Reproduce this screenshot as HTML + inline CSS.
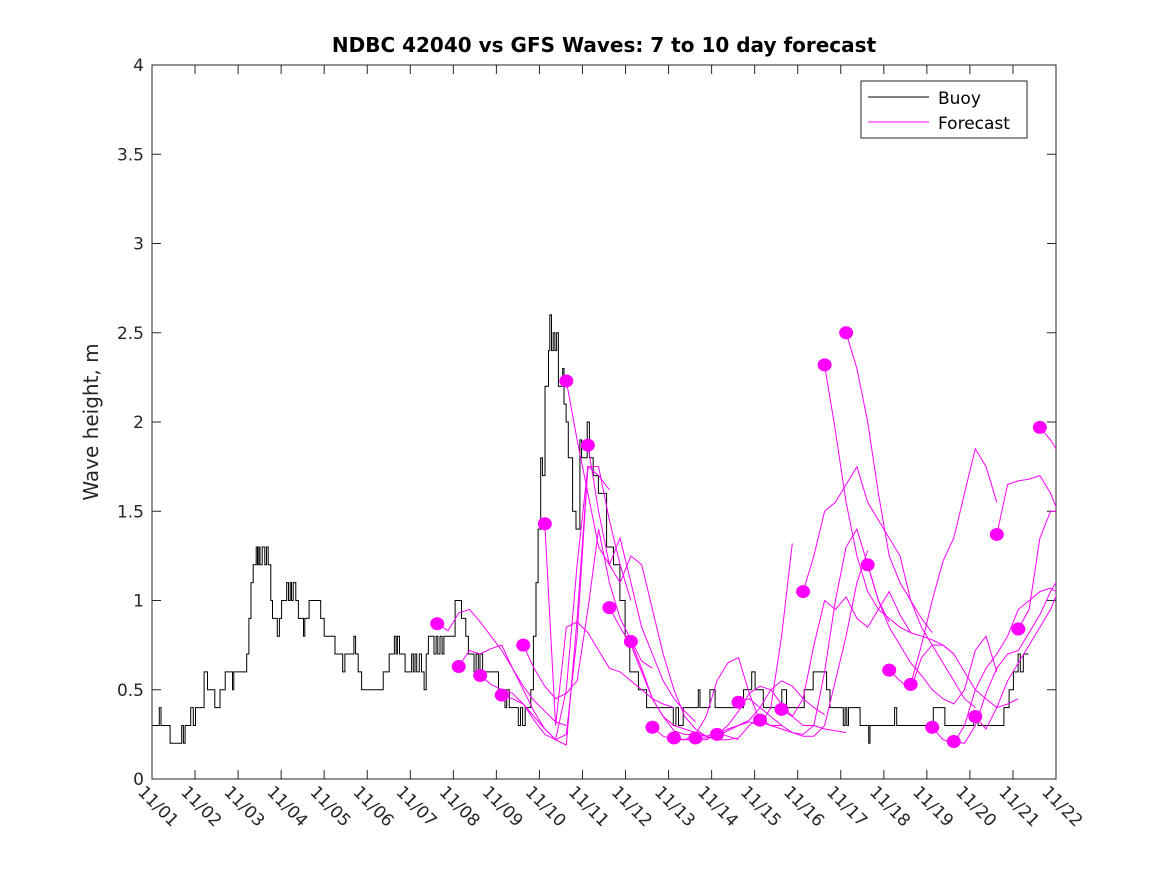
<!DOCTYPE html>
<html><head><meta charset="utf-8"><style>
html,body{margin:0;padding:0;background:#fff;}
svg{display:block;font-family:"DejaVu Sans","Liberation Sans",sans-serif;}
</style></head><body>
<svg id="chart" width="1167" height="875" viewBox="0 0 1167 875">
<defs><clipPath id="plotclip"><rect x="152" y="65" width="904" height="714"/></clipPath></defs>
<rect x="0" y="0" width="1167" height="875" fill="#fff"/>
<text x="604" y="52" text-anchor="middle" font-size="20" font-weight="bold" fill="#000">NDBC 42040 vs GFS Waves: 7 to 10 day forecast</text>
<text transform="translate(98,422) rotate(-90)" text-anchor="middle" font-size="20" fill="#262626">Wave height, m</text>
<g id="axes"></g>
<g id="plot" clip-path="url(#plotclip)"></g>
<g>
<rect x="861" y="81" width="166" height="57" fill="#fff" stroke="#262626" stroke-width="1"/>
<line x1="868" y1="97" x2="929" y2="97" stroke="#000" stroke-width="1"/>
<text x="938" y="104" font-size="17" fill="#000">Buoy</text>
<line x1="868" y1="122" x2="929" y2="122" stroke="#ff00ff" stroke-width="1"/>
<text x="938" y="129" font-size="17" fill="#000">Forecast</text>
</g>
</svg>
<script>
const yTicks=[0,0.5,1,1.5,2,2.5,3,3.5,4];
const yTickLabels=["0","0.5","1","1.5","2","2.5","3","3.5","4"];
const xTickLabels=["11/01","11/02","11/03","11/04","11/05","11/06","11/07","11/08","11/09","11/10","11/11","11/12","11/13","11/14","11/15","11/16","11/17","11/18","11/19","11/20","11/21","11/22"];
const buoyDays=[0,0.17,0.21,0.42,0.69,0.73,0.77,0.90,0.96,1.01,1.21,1.29,1.46,1.58,1.70,1.87,1.90,2.20,2.25,2.30,2.35,2.42,2.45,2.48,2.51,2.56,2.62,2.66,2.70,2.76,2.80,2.91,2.96,3.01,3.13,3.17,3.21,3.24,3.28,3.34,3.40,3.52,3.55,3.65,3.92,4.00,4.06,4.25,4.43,4.48,4.69,4.73,4.79,4.87,5.37,5.51,5.63,5.67,5.70,5.75,5.88,6.03,6.07,6.11,6.15,6.21,6.26,6.32,6.37,6.42,6.55,6.60,6.64,6.69,6.74,6.78,7.04,7.19,7.29,7.35,7.48,7.53,7.58,7.62,7.68,8.05,8.20,8.24,8.30,8.51,8.56,8.61,8.67,8.80,8.86,8.92,8.97,9.03,9.07,9.13,9.21,9.24,9.28,9.32,9.36,9.40,9.44,9.54,9.57,9.62,9.67,9.77,9.85,9.94,9.98,10.11,10.16,10.25,10.37,10.56,10.72,10.87,10.99,11.10,11.30,11.49,12.11,12.17,12.23,12.34,12.69,12.73,12.96,13.08,13.74,13.93,14.01,14.20,14.63,14.74,15.15,15.36,15.67,15.75,16.06,16.10,16.14,16.18,16.45,16.65,16.68,17.25,17.30,18.15,18.42,19.09,19.19,19.79,19.91,20.01,20.12,20.17,20.24,20.36];
const buoyVals=[0.3,0.4,0.3,0.2,0.3,0.2,0.3,0.4,0.3,0.4,0.6,0.5,0.4,0.5,0.6,0.5,0.6,0.7,0.9,1.1,1.2,1.3,1.2,1.3,1.2,1.3,1.2,1.3,1.2,1.0,0.9,0.8,0.9,1.0,1.1,1.0,1.1,1.0,1.1,1.0,0.9,0.8,0.9,1.0,0.9,0.8,0.8,0.7,0.6,0.7,0.8,0.7,0.6,0.5,0.6,0.7,0.8,0.7,0.8,0.7,0.6,0.7,0.6,0.7,0.6,0.7,0.6,0.5,0.7,0.8,0.7,0.8,0.7,0.8,0.7,0.8,1.0,0.9,0.8,0.7,0.6,0.7,0.6,0.7,0.6,0.5,0.4,0.5,0.4,0.3,0.4,0.3,0.4,0.5,0.8,1.1,1.4,1.8,1.7,2.2,2.4,2.6,2.4,2.5,2.4,2.5,2.2,2.3,2.1,2.0,1.8,1.5,1.4,1.9,1.8,2.0,1.8,1.7,1.6,1.3,1.2,1.0,0.8,0.6,0.5,0.4,0.3,0.4,0.3,0.4,0.5,0.4,0.5,0.4,0.5,0.6,0.5,0.4,0.5,0.4,0.5,0.6,0.5,0.4,0.3,0.4,0.3,0.4,0.3,0.2,0.3,0.4,0.3,0.4,0.3,0.35,0.3,0.4,0.5,0.6,0.7,0.6,0.7,0.7];
const fcStartDay=6.625;
const fcStepDays=0.25;
const fcIssueSpacing=0.5;
const fc0=[0.87,0.83,0.93,0.95,0.88,0.8,0.72,0.62,0.52,0.44,0.38,0.32,0.3];
const fc1=[0.63,0.72,0.70,0.73,0.75,0.62,0.5,0.38,0.28,0.22,0.19,0.9,1.75];
const fc2=[0.58,0.53,0.50,0.48,0.42,0.35,0.28,0.22,0.25,0.8,1.75,1.70,1.62];
const fc3=[0.47,0.45,0.42,0.33,0.25,0.22,0.5,1.2,1.75,1.75,1.45,1.2,1.0];
const fc4=[0.75,0.62,0.52,0.45,0.48,0.55,0.95,1.4,1.1,0.9,0.78,0.66,0.62];
const fc5=[1.43,0.3,0.85,0.88,0.82,0.72,0.62,0.6,0.55,0.5,0.45,0.42,0.4];
const fc6=[2.23,1.9,1.6,1.3,1.2,1.35,1.1,0.85,0.7,0.55,0.45,0.38,0.32];
const fc7=[1.87,1.5,1.2,1.1,1.25,1.2,0.95,0.7,0.5,0.35,0.28,0.24,0.22];
const fc8=[0.96,0.85,0.75,0.6,0.45,0.35,0.27,0.25,0.25,0.24,0.26,0.24,0.22];
const fc9=[0.77,0.62,0.45,0.35,0.3,0.28,0.26,0.24,0.22,0.22,0.23,0.3,0.35];
const fc10=[0.29,0.24,0.22,0.22,0.25,0.35,0.55,0.65,0.68,0.48,0.32,0.3,0.3];
const fc11=[0.23,0.22,0.22,0.22,0.25,0.28,0.3,0.32,0.3,0.4,0.8,1.32];
const fc12=[0.23,0.23,0.24,0.27,0.3,0.33,0.4,0.5,0.55,0.52,0.45,0.4,0.36];
const fc13=[0.25,0.3,0.38,0.48,0.52,0.5,0.42,0.35,0.3,0.3,0.28,0.27,0.26];
const fc14=[0.43,0.45,0.4,0.35,0.3,0.26,0.24,0.24,0.3,0.55,0.8,1.1,1.28];
const fc15=[0.33,0.3,0.28,0.26,0.25,0.3,0.6,1.0,1.3,1.4,1.2,1.0,0.88];
const fc16=[0.39,0.35,0.45,0.75,1.0,0.95,1.02,0.9,0.85,0.95,1.05,0.92,0.82];
const fc17=[1.05,1.25,1.5,1.55,1.65,1.75,1.55,1.45,1.35,1.25,1.0,0.9,0.82];
const fc18=[2.32,1.95,1.55,1.25,1.05,0.95,0.9,0.85,0.82,0.8,0.78,0.75,0.7];
const fc19=[2.5,2.3,2.0,1.6,1.25,1.1,1.0,0.85,0.75,0.65,0.55,0.45,0.4];
const fc20=[1.2,1.0,0.85,0.75,0.65,0.58,0.5,0.45,0.42,0.5,0.72,0.8,0.6];
const fc21=[0.61,0.55,0.5,0.68,0.75,0.75,0.7,0.6,0.5,0.45,0.4,0.42,0.45];
const fc22=[0.53,0.75,1.0,1.22,1.35,1.6,1.85,1.75,1.55];
const fc23=[0.29,0.22,0.2,0.3,0.5,0.62,0.7,0.8,0.95,1.0,1.05,1.07,1.03];
const fc24=[0.21,0.2,0.3,0.48,0.62,0.7,0.72,0.82,0.92,1.05,1.15,1.3,1.4];
const fc25=[0.35,0.28,0.4,0.55,0.65,0.75,0.85,0.95,1.1,1.3,1.4,1.42,1.42];
const fc26=[1.37,1.65,1.67,1.68,1.70,1.60,1.45,1.32,1.3];
const fc27=[0.84,0.95,1.35,1.5,1.5];
const fc28=[1.97,1.9,1.8];
const forecasts=[fc0,fc1,fc2,fc3,fc4,fc5,fc6,fc7,fc8,fc9,fc10,fc11,fc12,fc13,fc14,fc15,fc16,fc17,fc18,fc19,fc20,fc21,fc22,fc23,fc24,fc25,fc26,fc27,fc28];

const X0=152,X1=1056,Y0=779,Y1=65,DAYS=21,YMAX=4;
const xs=d=>X0+(X1-X0)*d/DAYS;
const ys=v=>Y0-(Y0-Y1)*v/YMAX;
const NS="http://www.w3.org/2000/svg";
const axes=document.getElementById('axes');
const plot=document.getElementById('plot');
function mk(tag,attrs,parent){const e=document.createElementNS(NS,tag);for(const k in attrs)e.setAttribute(k,attrs[k]);parent.appendChild(e);return e;}

const box=mk('rect',{x:X0,y:Y1,width:X1-X0,height:Y0-Y1,fill:'none',stroke:'#262626','stroke-width':1},axes);


yTicks.forEach((v,i)=>{
  const y=ys(v);
  const t1=mk('line',{x1:X0,y1:y,x2:X0+9,y2:y,stroke:'#262626'},axes);
  
  
  const t2=mk('line',{x1:X1,y1:y,x2:X1-9,y2:y,stroke:'#262626'},axes);
  
  
  const tx=mk('text',{x:X0-8,y:y+6,'text-anchor':'end','font-size':17,fill:'#262626'},axes);
  tx.textContent=yTickLabels[i];
  
  
});
xTickLabels.forEach((lab,i)=>{
  const x=xs(i);
  const t1=mk('line',{x1:x,y1:Y0,x2:x,y2:Y0-9,stroke:'#262626'},axes);
  
  
  const t2=mk('line',{x1:x,y1:Y1,x2:x,y2:Y1+9,stroke:'#262626'},axes);
  
  
  const tx=mk('text',{transform:`translate(${x-15},${Y0+14}) rotate(45)`,'font-size':17,fill:'#262626'},axes);
  tx.textContent=lab;
  
  
});

// buoy stepped line
let d='M'+xs(buoyDays[0])+','+ys(buoyVals[0]);
for(let i=1;i<buoyDays.length;i++){
  d+=' H'+xs(buoyDays[i]).toFixed(1)+' V'+ys(buoyVals[i]).toFixed(1);
}
const bl=mk('path',{d:d,fill:'none',stroke:'#000','stroke-width':1},plot);



forecasts.forEach((s,k)=>{
  const d0=fcStartDay+k*fcIssueSpacing;
  const pts=s.map((v,j)=>xs(d0+j*fcStepDays).toFixed(1)+','+ys(v).toFixed(1)).join(' ');
  const pl=mk('polyline',{points:pts,fill:'none',stroke:'#ff00ff','stroke-width':1},plot);
  
  
});
forecasts.forEach((s,k)=>{
  const d0=fcStartDay+k*fcIssueSpacing;
  const c=mk('ellipse',{cx:xs(d0),cy:ys(s[0]),rx:7,ry:6.5,fill:'#ff00ff'},plot);
  
  
});
</script>
</body></html>
